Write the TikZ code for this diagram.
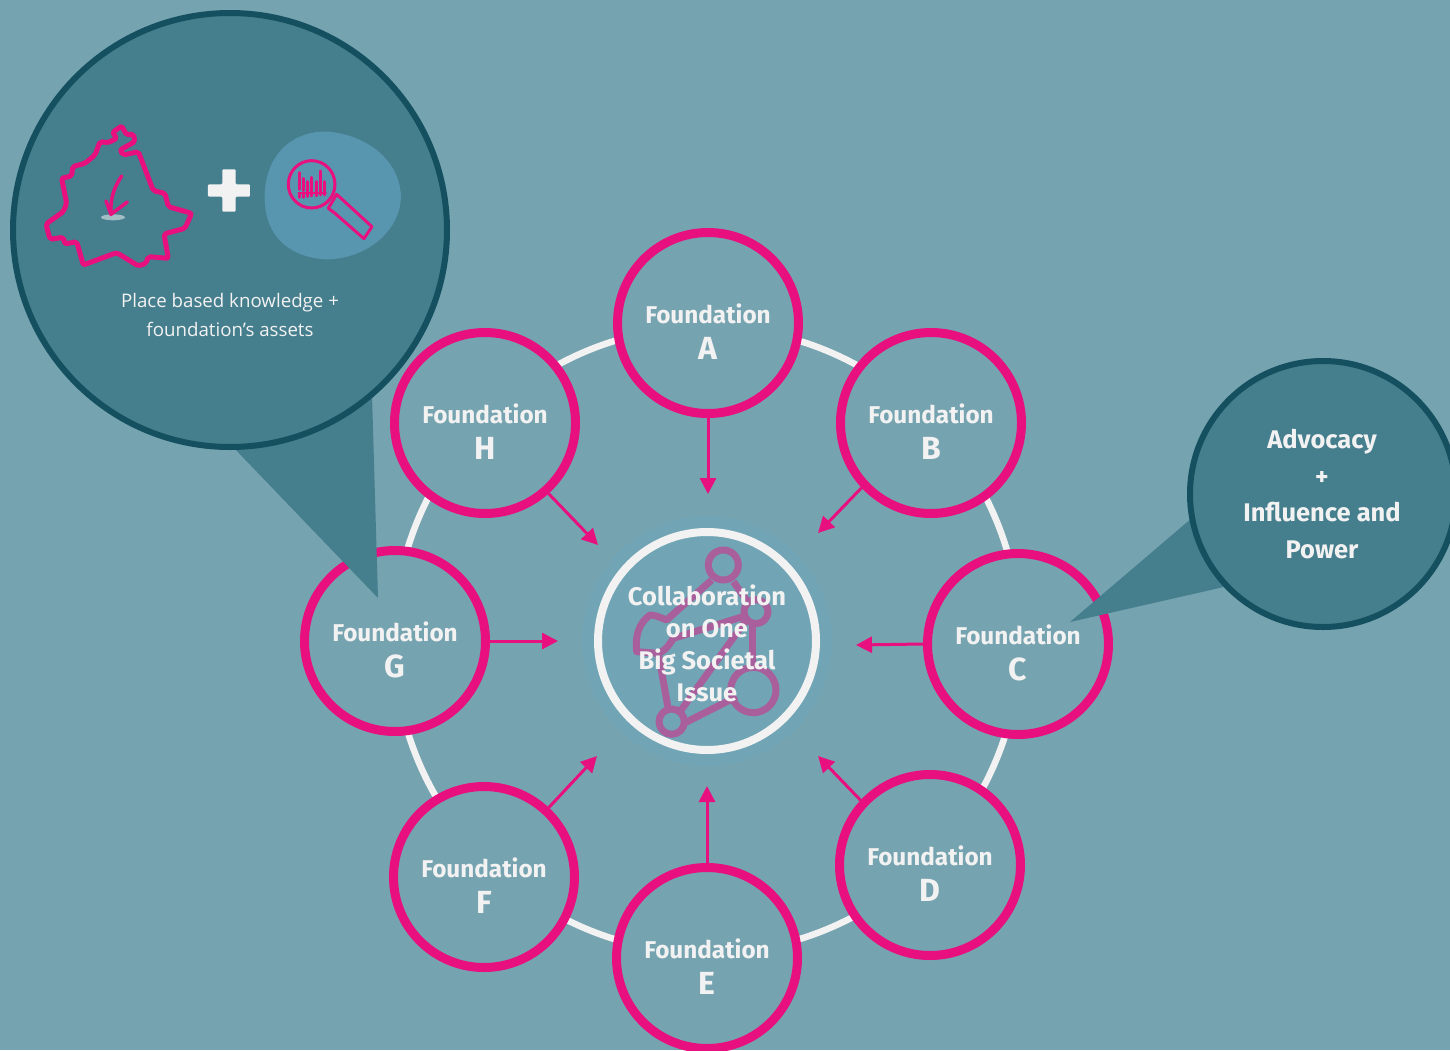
\documentclass[tikz,border=0pt]{standalone}
\usepackage{fontspec}
\setmainfont{Fira Sans}
\newfontfamily\smallfont{Open Sans}
\usetikzlibrary{arrows.meta}
\definecolor{bgc}{HTML}{76A3B0}
\definecolor{pinkc}{HTML}{E8107F}
\definecolor{haloc}{HTML}{71A5B5}
\definecolor{bubblec}{HTML}{457E8D}
\definecolor{darkc}{HTML}{14505F}
\definecolor{blobc}{HTML}{5896B0}
\definecolor{whitec}{HTML}{F2F2F2}
\definecolor{netc}{HTML}{A85F9B}
\newcommand\lettr{\fontsize{32}{34}\selectfont\bfseries}
\newcommand\fl[1]{\raisebox{-18pt}[0pt][0pt]{\begin{tabular}{@{}c@{}}Foundation\\[2pt]{\lettr #1}\end{tabular}}}
\tikzset{
 fnd/.style={circle,draw=pinkc,line width=9pt,fill=bgc,minimum size=181pt,inner sep=0pt,text=whitec,align=center,font=\fontsize{24.3}{34}\selectfont\bfseries},
 bubble/.style={circle,draw=darkc,line width=6pt,fill=bubblec,inner sep=0pt},
 tailc/.style={fill=bubblec,draw=none},
 inarrow/.style={draw=pinkc,line width=3pt,-{Triangle[length=16pt,width=16pt]}},
 ring/.style={draw=whitec,line width=6.5pt},
 netl/.style={draw=netc,line width=7pt,line join=round},
 ink/.style={draw=pinkc,line width=5pt,line join=round,line cap=round},
 thin ink/.style={draw=pinkc,line width=3pt,line join=round,line cap=round},
 hubtext/.style={text=whitec,align=center,font=\fontsize{25.5}{32}\selectfont\bfseries},
 advtext/.style={text=whitec,align=center,font=\fontsize{25.5}{36.5}\selectfont\bfseries},
 smalltext/.style={text=whitec,align=center,font=\smallfont\fontsize{18.7}{29}\selectfont},
}
\begin{document}
\begin{tikzpicture}[x=1pt,y=-1pt]
\useasboundingbox (0,0) rectangle (1450,1050);
\clip (0,0) rectangle (1450,1050);
\fill[bgc] (0,0) rectangle (1450,1050);
% ring
\node[circle,ring,minimum size=626pt,inner sep=0pt] (ringc) at (707,640) {};
% hub
\node[circle,fill=haloc,minimum size=250pt,inner sep=0pt] (halo) at (707,641) {};
\node[circle,ring,line width=8pt,minimum size=218pt,inner sep=0pt] (hubring) at (707,641) {};
% network graphic
\begin{scope}[shift={(570,510)},x=0.3333pt,y=-0.3333pt]
 \draw[netl] (460,165) circle [radius=45];
 \draw[netl] (558,305) circle [radius=36];
 \draw[netl] (305,635) circle [radius=38];
 \draw[netl] (550,540) circle [radius=68];
 \draw[netl] (425,210) -- (290,330) .. controls (270,322) and (255,315) .. (240,315) .. controls (205,340) and (195,380) .. (200,425) -- (265,430) .. controls (290,420) and (300,400) .. (310,385) -- (525,318);
 \draw[netl] (490,215) -- (535,278);
 \draw[netl] (525,335) -- (330,605);
 \draw[netl] (265,430) -- (295,598);
 \draw[netl] (342,640) -- (500,560);
 \draw[netl] (548,342) -- (548,472);
\end{scope}
\node[hubtext] (hubt) at (707,643) {Collaboration\\on One\\Big Societal\\Issue};
% foundations
\node[fnd] (A) at (708,323) {\fl{A}};
\node[fnd] (B) at (931,423) {\fl{B}};
\node[fnd] (C) at (1018,644) {\fl{C}};
\node[fnd] (D) at (930,865) {\fl{D}};
\node[fnd] (E) at (707,958) {\fl{E}};
\node[fnd] (F) at (484,877) {\fl{F}};
\node[fnd] (G) at (395,641) {\fl{G}};
\node[fnd] (H) at (485,423) {\fl{H}};
% arrows
\coordinate (tipA) at (708,494);
\coordinate (tipB) at (818,533);
\coordinate (tipC) at (856,645);
\coordinate (tipD) at (818,756);
\coordinate (tipE) at (707,786);
\coordinate (tipF) at (597,756);
\coordinate (tipG) at (558,641);
\coordinate (tipH) at (598,545);
\draw[inarrow] (A.south) -- (tipA);
\draw[inarrow] (B.223) -- (tipB);
\draw[inarrow] (C.west) -- (tipC);
\draw[inarrow] (D.137) -- (tipD);
\draw[inarrow] (E.north) -- (tipE);
\draw[inarrow] (F.47) -- (tipF);
\draw[inarrow] (G.east) -- (tipG);
\draw[inarrow] (H.-48) -- (tipH);
% left bubble
\fill[tailc] (233,447) -- (378,598) -- (372,395) -- cycle;
\node[bubble,minimum size=434pt] (place) at (230,230) {};
\node[smalltext] (placet) at (230,315) {Place based knowledge +\\foundation’s assets};
% right bubble
\fill[tailc] (1192,518) -- (1070,622) -- (1228,586) -- cycle;
\node[bubble,minimum size=266pt] (adv) at (1323,494) {};
\node[advtext] (advt) at (1322,494) {Advocacy\\+\\Influence and\\Power};
% bubble icons
\begin{scope}[shift={(20,100)},x=0.3333pt,y=-0.3333pt]
 \draw[ink,rounded corners=2pt] (305,78) -- (278,97) -- (290,115) -- (265,128) -- (240,125) -- (225,165) -- (195,190) -- (158,200) -- (155,228) -- (125,235) -- (140,310) -- (130,335) -- (78,372) -- (90,418) -- (130,412) -- (135,432) -- (170,425) -- (190,495) -- (290,458) -- (355,498) -- (378,490) -- (385,470) -- (445,475) -- (432,402) -- (495,385) -- (515,340) -- (445,320) -- (435,280) -- (400,272) -- (355,155) -- (310,165) -- (300,150) -- (345,125) -- (340,102) -- (320,105) -- cycle;
 \fill[whitec,opacity=.55] (279,352) ellipse [x radius=36,y radius=9];
 \draw[ink,line width=3.5pt] (305,228) .. controls (280,265) and (270,300) .. (273,343);
 \draw[ink,line width=3.5pt] (258,303) -- (273,343) -- (322,306);
 % plus
 \fill[whitec,rounded corners=1pt] (607,208) -- (647,208) -- (647,253) -- (690,253) -- (690,290) -- (647,290) -- (647,335) -- (607,335) -- (607,290) -- (564,290) -- (564,253) -- (607,253) -- cycle;
 % blob
 \fill[blobc] (735,270) .. controls (745,150) and (830,90) .. (925,95) .. controls (1040,105) and (1140,180) .. (1143,290) .. controls (1140,400) and (1030,480) .. (915,478) .. controls (800,470) and (725,400) .. (735,270) -- cycle;
 % magnifier
 \draw[thin ink] (875,253) ellipse [x radius=70,y radius=71];
 \draw[thin ink] (925,325) -- (950,283) -- (1056,380) -- (1032,416) -- (945,340) -- cycle;
 \foreach \xx/\tp/\bt in {838/218/268,851/235/272,863/245/290,876/232/288,890/245/288,903/213/285,915/245/285}
  \draw[thin ink] (\xx,\tp) -- (\xx,\bt);
 \draw[thin ink,line width=2pt] (835,279) -- (918,279);
 \foreach \xx in {840,852}
  \draw[thin ink] (\xx,282) -- (\xx,292);
\end{scope}
\end{tikzpicture}
\end{document}
